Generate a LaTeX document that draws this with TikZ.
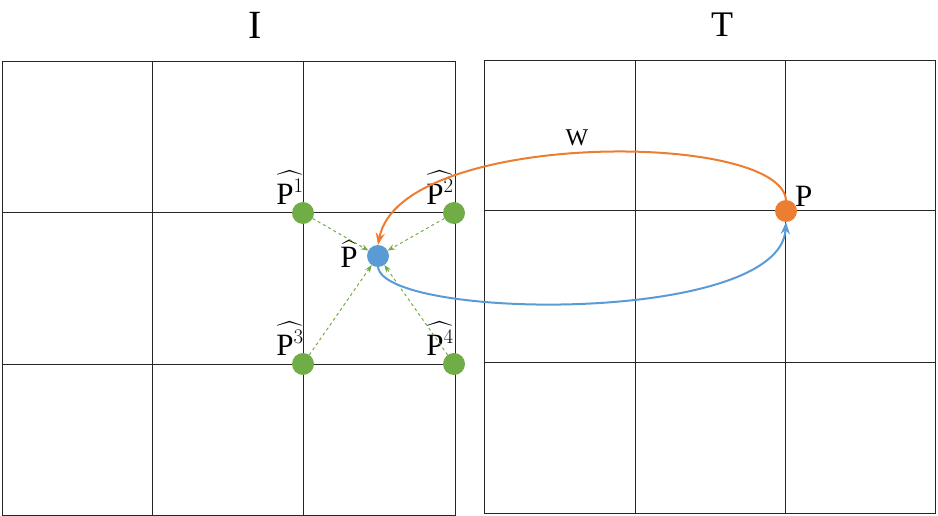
\documentclass[tikz,border=0pt]{standalone}
\usepackage{fontspec}
\setmainfont{Liberation Serif}
\usepackage{amsmath}
\usetikzlibrary{arrows.meta}
\definecolor{ptgreen}{RGB}{112,173,71}
\definecolor{ptblue}{RGB}{91,155,213}
\definecolor{ptorange}{RGB}{237,125,49}
\newcommand{\hatp}[1]{$\widehat{\text{P}^{#1}}$}
\begin{document}
\begin{tikzpicture}[
    x = 1pt,
    y = -1pt,
    >=Stealth,
    grid/.style = {draw=black!85, line width=1pt},
    corner/.style = {circle, fill=ptgreen, minimum size=22pt,
    inner sep=0pt, outer sep=0pt},
    warped/.style = {circle, fill=ptblue, minimum size=22pt,
    inner sep=0pt, outer sep=0pt},
    target/.style = {circle, fill=ptorange, minimum size=22pt,
    inner sep=0pt, outer sep=0pt},
    lbl/.style = {font=\fontsize{31}{31}\selectfont, inner sep=1pt},
    interp/.style = {->, ptgreen, dashed, line width=1pt},
]
\useasboundingbox (0,0) rectangle (938,516);

% grids
\draw[grid] (2,62) rectangle (455,515);
\foreach \x in {152,303} \draw[grid] (\x,62) -- (\x,515);
\foreach \y in {213,364} \draw[grid] (2,\y) -- (455,\y);
\draw[grid] (484,61) rectangle (935,513);
\foreach \x in {635,785} \draw[grid] (\x,61) -- (\x,513);
\foreach \y in {211,362} \draw[grid] (484,\y) -- (935,\y);

\node[font=\fontsize{40}{40}\selectfont] (imgI) at (255,25) {I};
\node[font=\fontsize{36}{36}\selectfont] (imgT) at (722,25) {T};

% points
\node[corner] (p1) at (303,213) {};
\node[corner] (p2) at (454,213) {};
\node[corner] (p3) at (303,364) {};
\node[corner] (p4) at (454,364) {};
\node[warped] (ph) at (378,256) {};
\node[target] (pt) at (786,211) {};

\node[lbl, anchor=south] at (290,206) {\hatp{1}};
\node[lbl, anchor=south] at (440,206) {\hatp{2}};
\node[lbl, anchor=south] at (290,357) {\hatp{3}};
\node[lbl, anchor=south] at (440,357) {\hatp{4}};
\node[lbl, anchor=south] at (349,269) {$\widehat{\text{P}}$};
\node[lbl, anchor=south west] at (794,208) {P};
\node[font=\fontsize{24}{24}\selectfont] (wlbl) at (577,138) {W};

% interpolation
\foreach \p in {p1,p2,p3,p4} \draw[interp] (\p) -- (ph);

% mappings
\draw[->, ptorange, line width=2pt] (pt.north) .. controls (780,130) and (400,130) .. (ph.north);
\draw[->, ptblue, line width=2pt] (ph.south) .. controls (385,320) and (780,325) .. (pt.south);
\end{tikzpicture}
\end{document}
